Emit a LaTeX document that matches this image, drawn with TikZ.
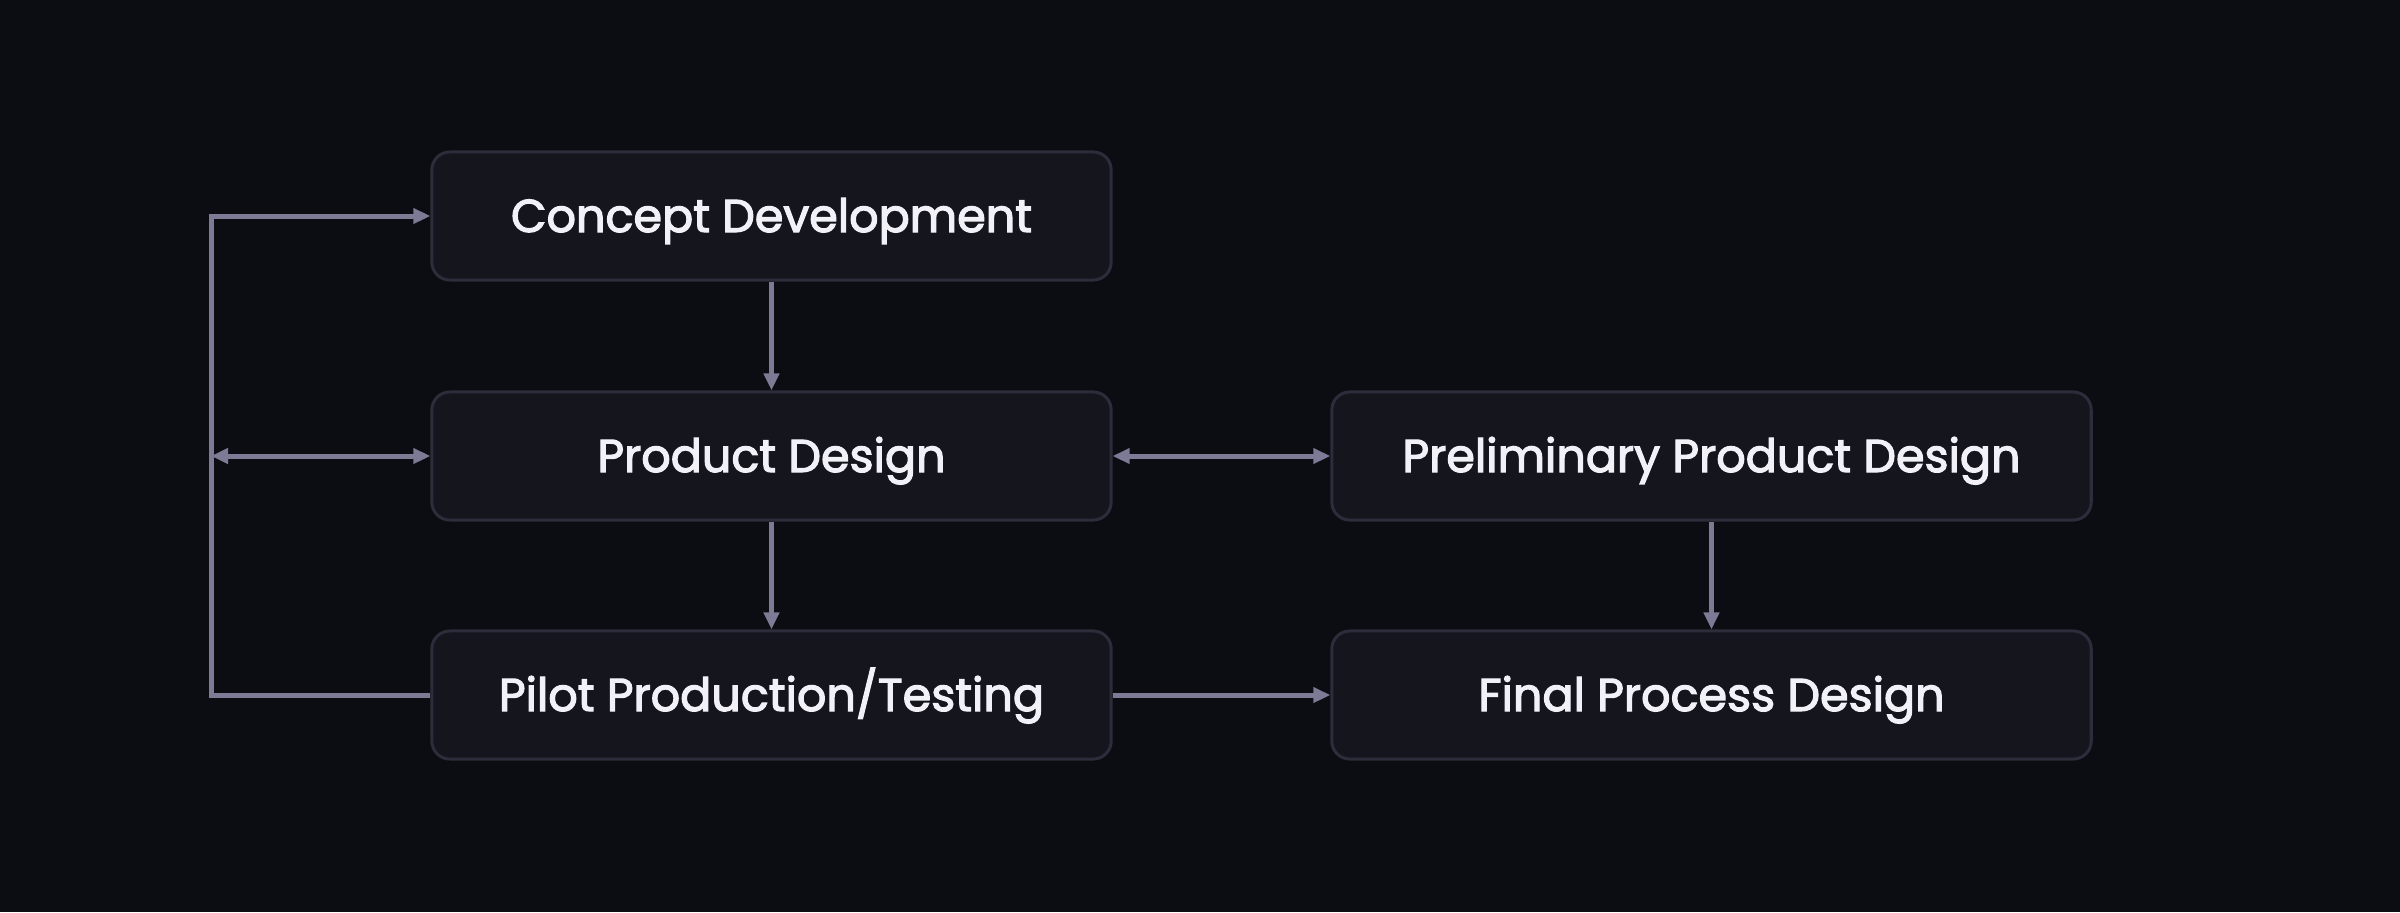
\documentclass[tikz,border=0pt]{standalone}
\usepackage{fontspec}
\setmainfont{Poppins}
\newfontfamily\stagefont{Poppins}[RawFeature={embolden=2.6}]
\usepackage{tikz}
\usetikzlibrary{arrows.meta, positioning, calc}
\definecolor{bgcolor}{HTML}{0C0D12}
\definecolor{boxcolor}{HTML}{15151E}
\definecolor{edgecolor}{HTML}{2D2C3B}
\definecolor{linkcolor}{HTML}{7C7A94}
\definecolor{labelcolor}{HTML}{F2F1F7}

\begin{document}
\begin{tikzpicture}[
    x=0.01cm, y=-0.01cm,
    stage/.style={draw=edgecolor, line width=0.03cm, fill=boxcolor, minimum width=#1, minimum height=1.28cm, rounded corners=0.18cm, font=\stagefont\fontsize{13.1}{16}\selectfont, text=labelcolor, align=center, text height=10pt, text depth=0.9pt},
    flow/.style={draw=linkcolor, line width=0.05cm, -{Triangle[length=0.17cm, width=0.15cm]}}
]
    % Background
    \fill[bgcolor] (0,0) rectangle (2400,912);
    \useasboundingbox (0,0) rectangle (2400,912);

    % Stages
    \node[stage=6.79cm] (concept) at (771.5,216) {Concept Development};
    \node[stage=6.79cm] (product) at (771.5,456) {Product Design};
    \node[stage=6.79cm] (pilot) at (771.5,695) {Pilot Production/Testing};
    \node[stage=7.59cm] (prelim) at (1711.5,456) {Preliminary Product Design};
    \node[stage=7.59cm] (final) at (1711.5,695) {Final Process Design};

    % Feedback corners
    \coordinate (loopbot) at (211,695);
    \coordinate (loopmid) at (211,456);

    % Connections
    \draw[flow] (concept) -- (product);
    \draw[flow] (product) -- (pilot);
    \draw[flow] (prelim) -- (final);
    \draw[flow] (pilot) -- (final);
    \draw[flow, {Triangle[length=0.17cm, width=0.15cm]}-{Triangle[length=0.17cm, width=0.15cm]}] (product) -- (prelim);
    \draw[flow] (pilot.west) -- (loopbot) |- (concept.west);
    \draw[flow, {Triangle[length=0.17cm, width=0.15cm]}-{Triangle[length=0.17cm, width=0.15cm]}] (loopmid) -- (product.west);
\end{tikzpicture}
\end{document}
